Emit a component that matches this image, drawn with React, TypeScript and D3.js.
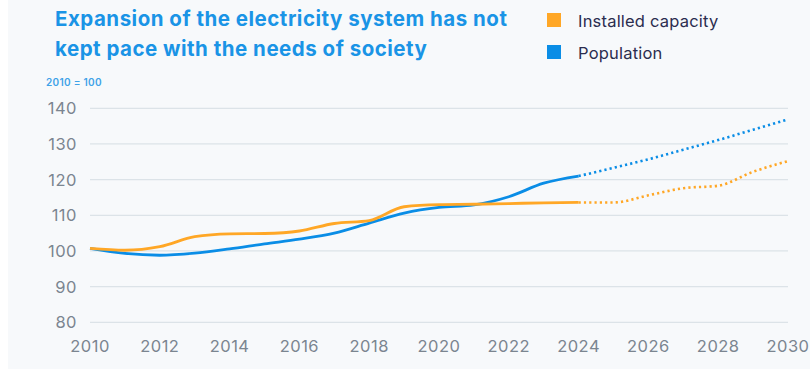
import React from "react";
import * as d3 from "d3";

const years = [2010, 2011, 2012, 2013, 2014, 2015, 2016, 2017, 2018, 2019, 2020, 2021, 2022, 2023, 2024];
const capacityActual = [100.7, 100.2, 101.2, 104.0, 104.8, 104.9, 105.6, 107.7, 108.5, 112.4, 113.0, 113.1, 113.3, 113.5, 113.6];
const populationActual = [100.7, 99.3, 98.8, 99.4, 100.6, 102.0, 103.3, 105.0, 107.8, 110.6, 112.2, 112.9, 115.2, 119.0, 121.0];

const forecastYears = [2024, 2025, 2026, 2027, 2028, 2029, 2030];
const capacityForecast = [113.6, 113.6, 115.6, 117.6, 118.3, 122.2, 125.2];
const populationForecast = [121.0, 123.3, 125.7, 128.4, 131.1, 134.0, 136.9];

const yTicks = [80, 90, 100, 110, 120, 130, 140];
const xTicks = [2010, 2012, 2014, 2016, 2018, 2020, 2022, 2024, 2026, 2028, 2030];

const titleLines = ["Expansion of the electricity system has not", "kept pace with the needs of society"];
const legendItems = [
  { label: "Installed capacity", color: "#FFA726" },
  { label: "Population", color: "#0A8DE6" },
];

const ORANGE = "#FFA726";
const BLUE = "#0A8DE6";

export default function App() {
  const x = d3.scaleLinear().domain([2010, 2030]).range([90, 788]);
  const y = d3.scaleLinear().domain([80, 140]).range([322.3, 108.3]);
  const line = d3
    .line<[number, number]>()
    .x((d) => x(d[0]))
    .y((d) => y(d[1]))
    .curve(d3.curveMonotoneX);

  const zip = (xs: number[], vs: number[]) => xs.map((v, i) => [v, vs[i]] as [number, number]);
  const font = "Inter, 'Noto Sans', sans-serif";

  return (
    <svg
      width={810}
      height={369}
      style={{ position: "absolute", left: 0, top: 0, display: "block" }}
      fontFamily={font}
    >
      <rect x={0} y={0} width={810} height={369} fill="#ffffff" />
      <rect x={8} y={0} width={802} height={369} fill="#F7F9FB" />

      {titleLines.map((t, i) => (
        <text key={i} x={55} y={26 + i * 29.5} fontSize={20.5} fontWeight={700} fill="#1A94E6" letterSpacing={0.5}>
          {t}
        </text>
      ))}

      {legendItems.map((d, i) => (
        <g key={d.label}>
          <rect x={547} y={13 + i * 32} width={14} height={14} fill={d.color} />
          <text x={578} y={27 + i * 32} fontSize={16.5} fill="#2B2D4F" letterSpacing={0.2}>
            {d.label}
          </text>
        </g>
      ))}

      <text x={46} y={86} fontSize={10} fontWeight={600} fill="#3EA2E8" letterSpacing={0.3}>
        2010 = 100
      </text>

      {yTicks.map((t) => (
        <g key={t}>
          <line x1={90} x2={788} y1={y(t)} y2={y(t)} stroke="#DCE3E8" strokeWidth={1.2} />
          <text x={77} y={y(t) + 6} textAnchor="end" fontSize={16.5} fill="#7B8590" letterSpacing={0.5}>
            {t}
          </text>
        </g>
      ))}

      {xTicks.map((t) => (
        <text key={t} x={x(t)} y={352} textAnchor="middle" fontSize={16.5} fill="#7B8590" letterSpacing={0.5}>
          {t}
        </text>
      ))}

      <path d={line(zip(years, populationActual)) || ""} fill="none" stroke={BLUE} strokeWidth={2.8} />
      <path d={line(zip(years, capacityActual)) || ""} fill="none" stroke={ORANGE} strokeWidth={2.8} />
      <path
        d={line(zip(forecastYears, populationForecast)) || ""}
        fill="none"
        stroke={BLUE}
        strokeWidth={2.6}
        strokeDasharray="2.2 3.1"
      />
      <path
        d={line(zip(forecastYears, capacityForecast)) || ""}
        fill="none"
        stroke={ORANGE}
        strokeWidth={2.6}
        strokeDasharray="2.2 3.1"
      />
    </svg>
  );
}
